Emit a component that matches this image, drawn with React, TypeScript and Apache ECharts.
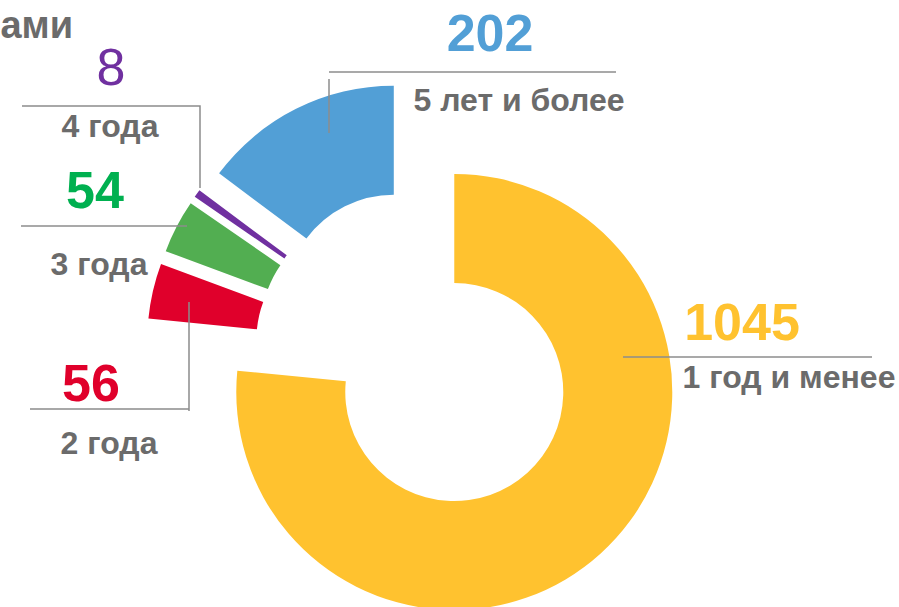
import React, { useEffect, useRef } from "react";
import * as echarts from "echarts";

// ---- data ----
const categories = ["1 год и менее", "2 года", "3 года", "4 года", "5 лет и более"];
const values = [1045, 56, 54, 8, 202];
const titleText = "ами";

// ---- styles / layout (kept apart from the data) ----
const sliceColors = ["#FFC22F", "#E0002B", "#52AE51", "#7030A0", "#529FD6"];
const valueColors = ["#FFC22F", "#E0002B", "#00B050", "#7030A0", "#529FD6"];
const valueWeights = ["bold", "bold", "bold", "normal", "bold"];
const valuePos: [number, number][] = [
  [742, 322],
  [91, 383],
  [95, 190],
  [111, 67],
  [490, 33],
];
const namePos: [number, number][] = [
  [789, 377],
  [109, 443],
  [99, 264],
  [110, 126],
  [519, 100],
];
const leaderLines: [number, number][][] = [
  [[623, 357], [872, 357]],
  [[189, 302], [189, 411], [189, 409], [30, 409]],
  [[187, 226], [21, 226]],
  [[200, 188], [200, 106], [22, 106]],
  [[329, 133], [329, 79]],
  [[329, 72], [616, 72]],
];

const FONT = "'Liberation Sans', Arial, sans-serif";
const GRAY = "#6B6B6B";
const LINE = "#8C8C8C";

export default function App() {
  const ref = useRef<HTMLDivElement>(null);

  useEffect(() => {
    if (!ref.current) return;
    const chart = echarts.init(ref.current, undefined, { renderer: "svg" });

    const data = values.map((v, i) => ({
      value: v,
      name: categories[i],
      selected: true,
      itemStyle: { color: sliceColors[i] },
    }));

    const lines = leaderLines.map((pts) => ({
      type: "polyline",
      silent: true,
      shape: { points: pts },
      style: { stroke: LINE, lineWidth: 1.5, fill: null },
      z: 10,
    }));

    const valueTexts = values.map((v, i) => ({
      type: "text",
      x: valuePos[i][0],
      y: valuePos[i][1],
      silent: true,
      z: 11,
      style: {
        text: String(v),
        fill: valueColors[i],
        font: `${valueWeights[i]} 52px ${FONT}`,
        textAlign: "center",
        textVerticalAlign: "middle",
      },
    }));

    const nameTexts = categories.map((c, i) => ({
      type: "text",
      x: namePos[i][0],
      y: namePos[i][1],
      silent: true,
      z: 11,
      style: {
        text: c,
        fill: GRAY,
        font: `bold 32px ${FONT}`,
        textAlign: "center",
        textVerticalAlign: "middle",
      },
    }));

    chart.setOption({
      animation: false,
      backgroundColor: "#ffffff",
      graphic: [
        {
          type: "text",
          x: 73,
          y: 25,
          silent: true,
          style: {
            text: titleText,
            fill: GRAY,
            font: `bold 38px ${FONT}`,
            textAlign: "right",
            textVerticalAlign: "middle",
          },
        },
        ...lines,
        ...valueTexts,
        ...nameTexts,
      ],
      series: [
        {
          type: "pie",
          center: [418, 352],
          radius: [109, 218],
          startAngle: 90,
          clockwise: true,
          selectedMode: "multiple",
          selectedOffset: 54,
          avoidLabelOverlap: false,
          emphasis: { disabled: true },
          select: { itemStyle: { borderWidth: 0 } },
          itemStyle: { borderWidth: 0 },
          label: { show: false },
          labelLine: { show: false },
          data,
        },
      ],
    });

    return () => chart.dispose();
  }, []);

  return (
    <div
      ref={ref}
      style={{ position: "absolute", left: 0, top: 0, width: 899, height: 607 }}
    />
  );
}
